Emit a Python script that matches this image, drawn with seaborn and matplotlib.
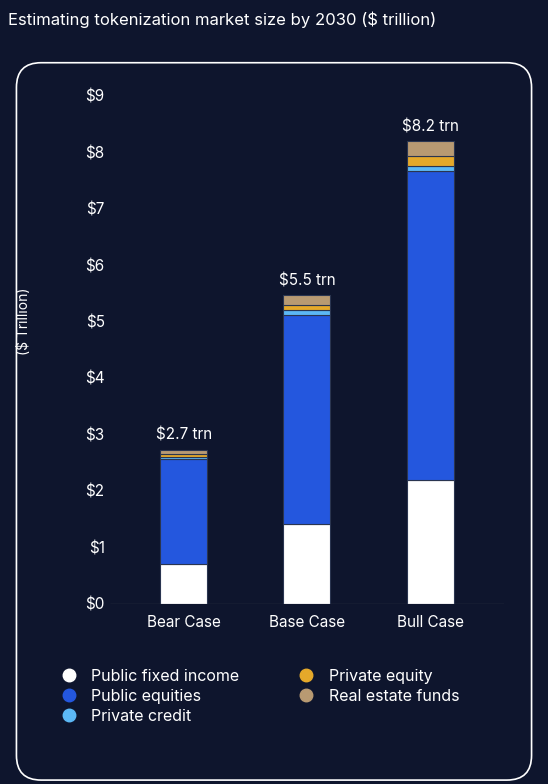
import matplotlib
matplotlib.use("Agg")
import matplotlib.pyplot as plt
import seaborn as sns
import pandas as pd
import numpy as np
from matplotlib.patches import FancyBboxPatch
from matplotlib.lines import Line2D

cases = ['Bear Case', 'Base Case', 'Bull Case']
public_fixed_income = [0.71, 1.42, 2.20]
public_equities = [1.85, 3.70, 5.46]
private_credit = [0.04, 0.08, 0.09]
private_equity = [0.06, 0.09, 0.19]
real_estate_funds = [0.07, 0.18, 0.26]
totals = ['$2.7 trn', '$5.5 trn', '$8.2 trn']

series = ['Public fixed income', 'Public equities', 'Private credit', 'Private equity', 'Real estate funds']
colors = ['#ffffff', '#2457de', '#5cb8f5', '#e5a92a', '#b89a72']
bg = '#0e152d'

df = pd.DataFrame({'case': cases, series[0]: public_fixed_income, series[1]: public_equities,
                   series[2]: private_credit, series[3]: private_equity, series[4]: real_estate_funds})

sns.set_style('dark')
plt.rcParams['font.family'] = ['Inter', 'DejaVu Sans']
fig = plt.figure(figsize=(5.48, 7.84), dpi=100, facecolor=bg)
box = FancyBboxPatch((0.03, 0.005), 0.94, 0.915, boxstyle='round,pad=0,rounding_size=0.045',
                     transform=fig.transFigure, facecolor='none', edgecolor='white', lw=1.2,
                     mutation_aspect=548/784, zorder=-1)
fig.patches.append(box)
fig.text(0.015, 0.975, 'Estimating tokenization market size by 2030 ($ trillion)', color='white',
         fontsize=12, va='center')

ax = fig.add_axes([0.2, 0.23, 0.72, 0.655])
ax.set_facecolor(bg)
ax.patch.set_alpha(0)
bottom = np.zeros(len(cases))
for s, c in zip(series, colors):
    sns.barplot(x=df['case'], y=df[s], bottom=bottom, color=c, width=0.38, ax=ax,
                edgecolor='#2a3550', linewidth=0.8, saturation=1)
    bottom += df[s].values
for i, t in enumerate(totals):
    ax.text(i, bottom[i] + 0.12, t, ha='center', va='bottom', color='white', fontsize=11)

ax.set_ylim(0, 9.1)
ax.set_yticks(range(10))
ax.set_yticklabels(['$%d' % v for v in range(10)], color='white', fontsize=11)
ax.tick_params(axis='x', colors='white', labelsize=11, length=0, pad=8)
ax.tick_params(axis='y', length=0)
ax.set_xlabel('')
ax.set_ylabel('($ Trillion)', color='white', fontsize=10)
ax.yaxis.set_label_coords(-0.2, 0.55)
ax.grid(False)
for sp in ax.spines.values():
    sp.set_visible(False)
ax.axhline(0, color='#888888', lw=0.8)
ax.set_xlim(-0.6, 2.6)

hs = [Line2D([], [], marker='o', ls='', markersize=9, markerfacecolor=c, markeredgecolor=c) for c in colors]
fig.legend(hs, series, ncol=2, loc='upper left',
           bbox_to_anchor=(0.07, 0.165), frameon=False, fontsize=11.5, labelcolor='white',
           handletextpad=0.4, columnspacing=3.2, labelspacing=0.3)

fig.savefig('out.png', dpi=100, facecolor=bg)
